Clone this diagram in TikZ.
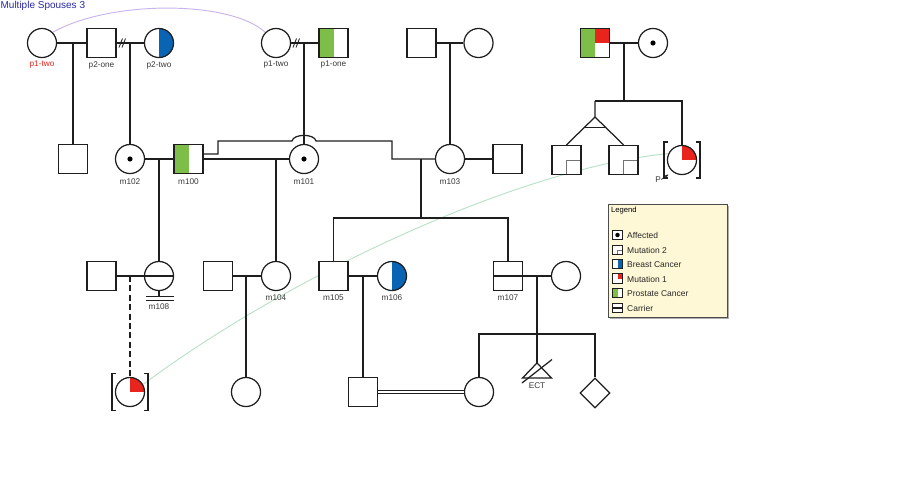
\documentclass[tikz,border=0pt]{standalone}
\usepackage{fontspec}
\setmainfont{Liberation Sans}
\usetikzlibrary{shapes.geometric,calc,arrows.meta,shadows}
\definecolor{bcblue}{RGB}{10,100,180}
\definecolor{pcgreen}{RGB}{124,190,72}
\definecolor{mred}{RGB}{232,36,28}
\definecolor{legbg}{RGB}{255,248,215}
\definecolor{titleblue}{RGB}{40,40,170}
\definecolor{arcpurple}{RGB}{200,180,235}
\definecolor{arcgreen}{RGB}{185,225,200}
\definecolor{ink}{RGB}{30,30,30}
\pgfdeclarelayer{bg}
\pgfsetlayers{bg,main}
\begin{document}
\begin{tikzpicture}[x=0.85pt,y=-0.85pt, line width=1.05pt, draw=ink,
  male/.style={draw=ink, rectangle, minimum size=24.7pt, inner sep=0pt, fill=white},
  female/.style={draw=ink, circle, minimum size=24.7pt, inner sep=0pt, fill=white},
  unk/.style={draw=ink, diamond, minimum size=25.5pt, inner sep=0pt, fill=white},
  lsym/.style={draw=ink, rectangle, minimum size=7.8pt, inner sep=0pt, fill=white, line width=0.75pt},
  lbl/.style={font=\fontsize{7}{8}\selectfont, text=black!78, inner sep=0pt},
  ltxt/.style={font=\fontsize{7.2}{8}\selectfont, text=black!85, inner sep=0pt, anchor=west},
  bc/.style={path picture={\fill[bcblue] (path picture bounding box.north) rectangle (path picture bounding box.south east);}},
  pc/.style={path picture={\fill[pcgreen] (path picture bounding box.north west) rectangle (path picture bounding box.south);}},
  mone/.style={path picture={\fill[mred] (path picture bounding box.center) rectangle (path picture bounding box.north east);}},
  pcmone/.style={path picture={\fill[pcgreen] (path picture bounding box.north west) rectangle (path picture bounding box.south);
      \fill[mred] (path picture bounding box.center) rectangle (path picture bounding box.north east);}},
  mtwo/.style={path picture={\draw[line width=0.6pt, black!55] (path picture bounding box.south) |- (path picture bounding box.east);}},
  aff/.style={path picture={\fill[black] (path picture bounding box.center) circle (2.2pt);}},
  laff/.style={path picture={\fill[black] (path picture bounding box.center) circle (1.9pt);}},
  carrier/.style={path picture={\draw[line width=1.9pt] (path picture bounding box.west) -- (path picture bounding box.east);}},
  lcarrier/.style={path picture={\draw[line width=1.2pt] (path picture bounding box.west) -- (path picture bounding box.east);}},
  brk/.style={line width=0.9pt},
  divmark/.style={line width=0.7pt}
]
\useasboundingbox (0,0) rectangle (900,500);

% title
\node[font=\fontsize{8.5}{10}\selectfont, text=titleblue, anchor=west, inner sep=0pt] (title) at (0,6) {Multiple Spouses 3};

% ---------- generation I ----------
\node[female] (p1twoA) at (42,43) {};
\node[male] (p2one) at (101.5,43) {};
\node[female, bc] (p2two) at (159,43) {};
\node[female] (p1twoB) at (276,43) {};
\node[male, pc] (p1one) at (333.5,43) {};
\node[male] (g1m) at (421.5,43) {};
\node[female] (g1f) at (478.5,43) {};
\node[male, pcmone] (g2m) at (595,43) {};
\node[female, aff] (g2f) at (653,43) {};

\node[lbl, text=mred] (l1) at (42,65) {p1-two};
\node[lbl] (l2) at (101.5,65) {p2-one};
\node[lbl] (l3) at (159,65) {p2-two};
\node[lbl] (l4) at (276,65) {p1-two};
\node[lbl] (l5) at (333.5,65) {p1-one};

\draw (p1twoA) -- (p2one);
\draw (p2one) -- (p2two);
\draw[divmark] (119,47.5) -- (122.5,38.5) (122,47.5) -- (125.5,38.5);
\draw (p1twoB) -- (p1one);
\draw[divmark] (293,47.5) -- (296.5,38.5) (296,47.5) -- (299.5,38.5);
\draw (g1m) -- (g1f);
\draw (g2m) -- (g2f);

\coordinate (c1) at (73,43);
\coordinate (c2) at (130,43);
\coordinate (c3) at (304,43);
\coordinate (c4) at (450,43);
\coordinate (c5) at (624,43);
\coordinate (c5b) at (624,101);
\coordinate (tw) at (595,101);
\coordinate (twa) at (595,117);

% ---------- generation II ----------
\node[male] (s1) at (73,159) {};
\node[female, aff] (m102) at (130,159) {};
\node[male, pc] (m100) at (188.5,159) {};
\node[female, aff] (m101) at (304,159) {};
\node[female] (m103) at (450,159) {};
\node[male] (s2) at (507.5,159) {};
\node[male, mtwo] (t1) at (566.5,160) {};
\node[male, mtwo] (t2) at (623.5,160) {};
\node[female, mone] (pro2) at (682,160) {};

\node[lbl] (l6) at (130,182) {m102};
\node[lbl] (l7) at (188.5,182) {m100};
\node[lbl] (l8) at (304,182) {m101};
\node[lbl] (l9) at (450,182) {m103};

\draw (c1) -- (s1);
\draw (c2) -- (m102);
\draw (c3) -- (m101);
\draw (c4) -- (m103);
\draw (c5) -- (c5b);
\draw (tw) -| (pro2.north);
\draw (tw) -- (twa) -- (t1.north);
\draw (twa) -- (t2.north);
\draw ($(twa)!0.39!(t1.north)$) -- ($(twa)!0.39!(t2.north)$);

% brackets and P
\draw[brk] ($(pro2)+(-14,-18)$) -- ++(-4,0) -- ++(0,36) -- ++(4,0);
\draw[brk] ($(pro2)+(14,-18)$) -- ++(4,0) -- ++(0,36) -- ++(-4,0);
\node[lbl] (plbl) at (658,179.5) {P};
\draw[-{Stealth[length=3pt,width=2.6pt]}, line width=0.6pt] (plbl.east) -- ++(7,-5);

\draw (m102) -- (m100);
\draw (m100) -- (m101);
\draw ([yshift=4.25pt]m100.east) -- (218,154) -- (218,141) -- (292,141)
   .. controls (293.5,133.5) and (314.5,133.5) .. (316,141) -- (392,141) -- (392,159) -- (m103.west);
\draw (m103) -- (s2);
\coordinate (c6) at (159,159);
\coordinate (c7) at (276,159);
\coordinate (c8) at (421,159);
\coordinate (sb2) at (421,218);

% ---------- generation III ----------
\node[male] (s3) at (101.5,276) {};
\node[female, carrier] (m108) at (159,276) {};
\node[male] (s4) at (218,276) {};
\node[female] (m104) at (276,276) {};
\node[male] (m105) at (333.5,276) {};
\node[female, bc] (m106) at (392,276) {};
\node[male, carrier] (m107) at (508,276) {};
\node[female] (s5) at (566,276) {};

\node[lbl] (l10) at (159,307) {m108};
\node[lbl] (l11) at (276,298) {m104};
\node[lbl] (l12) at (333.5,298) {m105};
\node[lbl] (l13) at (392,298) {m106};
\node[lbl] (l14) at (508,298) {m107};

\draw (c6) -- (m108);
\draw (c7) -- (m104);
\draw (c8) -- (sb2);
\draw (m105.north) |- (sb2) -| (m107.north);
\draw (m108.south) -- (159,296.5);
\draw[line width=0.85pt] (146,296.5) -- (174,296.5) (146,300) -- (174,300);

\draw (s3) -- (m108);
\draw (s4) -- (m104);
\draw (m105) -- (m106);
\draw (m107) -- (s5);
\coordinate (c9) at (130,276);
\coordinate (c10) at (246,276);
\coordinate (c11) at (363,276);
\coordinate (c12) at (537,276);
\coordinate (sb3) at (537,334);

% ---------- generation IV ----------
\node[female, mone] (pro1) at (130,392) {};
\node[female] (f4) at (246,392) {};
\node[male] (s6) at (363,392) {};
\node[female] (f5) at (479,392) {};
\coordinate (ect) at (537,363);
\node[unk] (d1) at (595,393) {};

\draw[dashed, dash pattern=on 5pt off 3pt] (c9) -- (pro1);
\draw (c10) -- (f4);
\draw (c11) -- (s6);
\draw (c12) -- (ect);
\draw (f5.north) |- (sb3) -| (d1.north);
\draw (ect) -- (522.5,378) -- (551.5,378) -- cycle;
\draw (522,383) -- (552,359.5);
\node[lbl] (l15) at (537,386) {ECT};
\draw[line width=0.75pt, double=white, double distance=1.5pt] (s6) -- (f5);

\draw[brk] ($(pro1)+(-14,-18.5)$) -- ++(-4,0) -- ++(0,37) -- ++(4,0);
\draw[brk] ($(pro1)+(14,-18.5)$) -- ++(4,0) -- ++(0,37) -- ++(-4,0);

% ---------- arcs (behind) ----------
\begin{pgfonlayer}{bg}
\draw[arcpurple, line width=0.8pt] (p1twoA.north east) .. controls (110,0) and (230,0) .. (p1twoB.north west);
\draw[arcgreen, line width=0.8pt] (pro1.30) .. controls (290,275) and (520,168) .. (pro2.155);
\end{pgfonlayer}

% ---------- legend ----------
\node[draw=black!70, line width=0.6pt, fill=legbg, minimum width=101pt, minimum height=96pt, inner sep=0pt,
      drop shadow={shadow xshift=1.8pt, shadow yshift=-1.8pt, fill=black!45, opacity=0.7}] (leg) at (667.5,260.5) {};
\node[font=\fontsize{6.5}{7}\selectfont, anchor=west, inner sep=0pt] (legt) at (611,211) {Legend};
\node[lsym, laff] (k1) at (617.5,235) {};
\node[lsym, mtwo] (k2) at (617.5,250) {};
\node[lsym, bc] (k3) at (617.5,264) {};
\node[lsym, mone] (k4) at (617.5,278.5) {};
\node[lsym, pc] (k5) at (617.5,293) {};
\node[lsym, lcarrier] (k6) at (617.5,308) {};
\node[ltxt] (kt1) at (627,235.5) {Affected};
\node[ltxt] (kt2) at (627,250) {Mutation 2};
\node[ltxt] (kt3) at (627,264.5) {Breast Cancer};
\node[ltxt] (kt4) at (627,279) {Mutation 1};
\node[ltxt] (kt5) at (627,293.5) {Prostate Cancer};
\node[ltxt] (kt6) at (627,308) {Carrier};
\end{tikzpicture}
\end{document}
